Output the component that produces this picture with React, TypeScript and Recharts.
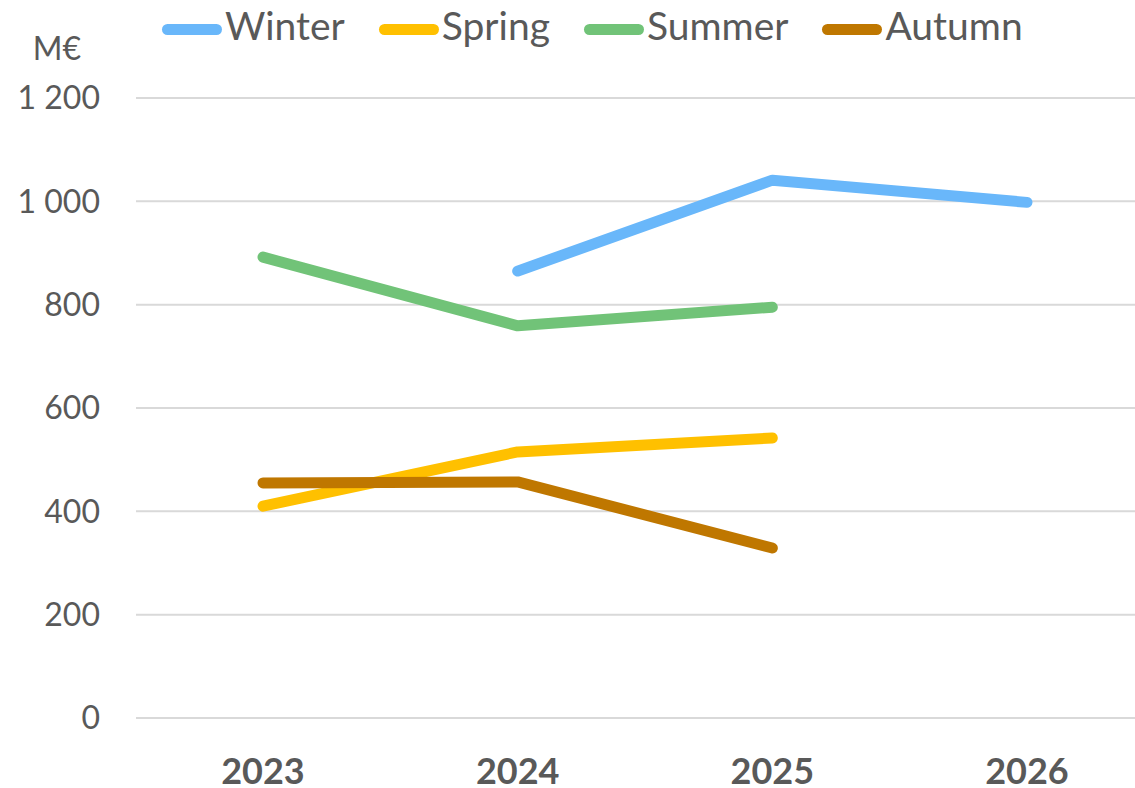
import React from 'react';
import {
  LineChart,
  Line,
  XAxis,
  YAxis,
  CartesianGrid,
  Legend
} from 'recharts';

const years = ['2023', '2024', '2025', '2026'];
const winter = [null, 865, 1041, 998];
const spring = [410, 515, 542, null];
const summer = [892, 759, 795, null];
const autumn = [455, 457, 329, null];
const yTicks = [0, 200, 400, 600, 800, 1000, 1200];

const series = [
  { key: 'Winter', values: winter, color: '#69B7FA' },
  { key: 'Spring', values: spring, color: '#FFC000' },
  { key: 'Summer', values: summer, color: '#71C378' },
  { key: 'Autumn', values: autumn, color: '#BF7700' }
];

const data = years.map((year, i) => {
  const row: Record<string, any> = { year };
  series.forEach((s) => {
    row[s.key] = s.values[i];
  });
  return row;
});

const TEXT = '#595959';
const FONT = 'Lato, "Open Sans", sans-serif';

const formatTick = (v: number) =>
  String(v).replace(/\B(?=(\d{3})+(?!\d))/g, ' ');

// legend keeps the series order (Recharts sorts its payload by name)
const renderLegend = () => (
  <div style={{ display: 'flex', alignItems: 'center', fontFamily: FONT }}>
    {series.map((s) => (
      <div
        key={s.key}
        style={{ display: 'flex', alignItems: 'center', marginRight: 34 }}
      >
        <div
          style={{
            width: 60,
            height: 11,
            borderRadius: 6,
            background: s.color,
            marginRight: 3
          }}
        />
        <span
          style={{
            fontSize: 39,
            color: TEXT,
            lineHeight: '44px',
            position: 'relative',
            top: -4
          }}
        >
          {s.key}
        </span>
      </div>
    ))}
  </div>
);

const UnitLabel = ({ viewBox }: any) => (
  <text
    x={viewBox.x + 57}
    y={viewBox.y - 38}
    textAnchor="middle"
    fill={TEXT}
    fontSize={32}
    fontFamily={FONT}
  >
    M€
  </text>
);

export default function App() {
  return (
    <div
      style={{
        position: 'absolute',
        left: 0,
        top: 0,
        width: 1135,
        height: 788,
        overflow: 'hidden',
        background: '#fff'
      }}
    >
      <LineChart
        width={1160}
        height={788}
        data={data}
        margin={{ top: 98, right: 6, bottom: 0, left: 0 }}
      >
        <CartesianGrid vertical={false} stroke="#D9D9D9" strokeWidth={2} />
        <XAxis
          dataKey="year"
          axisLine={false}
          tickLine={false}
          tickSize={0}
          tickMargin={40}
          height={70}
          padding={{ left: 127, right: 127 }}
          tick={{ fill: TEXT, fontSize: 36, fontWeight: 700, fontFamily: FONT }}
        />
        <YAxis
          width={136}
          domain={[0, 1200]}
          ticks={yTicks}
          axisLine={false}
          tickLine={false}
          tickSize={0}
          tickMargin={36}
          tickFormatter={formatTick}
          tick={{ fill: TEXT, fontSize: 32, fontFamily: FONT }}
          label={<UnitLabel />}
        />
        <Legend
          layout="horizontal"
          verticalAlign="middle"
          align="center"
          content={renderLegend}
          wrapperStyle={{ top: 7, left: 162, width: 'auto' }}
        />
        {series.map((s) => (
          <Line
            key={s.key}
            dataKey={s.key}
            name={s.key}
            stroke={s.color}
            strokeWidth={11}
            strokeLinecap="round"
            strokeLinejoin="round"
            dot={false}
            activeDot={false}
            connectNulls={false}
            isAnimationActive={false}
          />
        ))}
      </LineChart>
    </div>
  );
}
